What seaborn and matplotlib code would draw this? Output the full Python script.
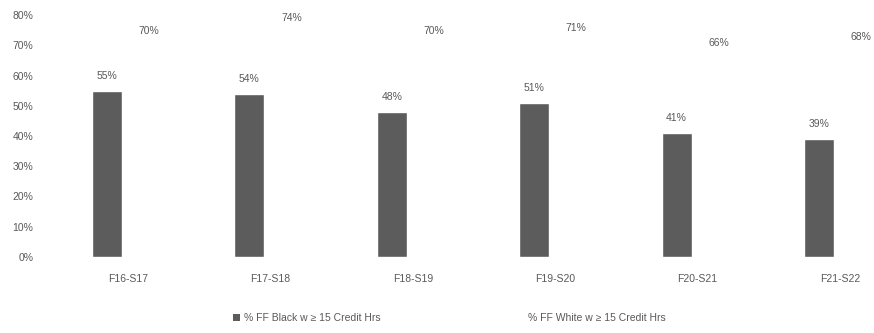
import matplotlib
matplotlib.use("Agg")
import matplotlib.pyplot as plt
import seaborn as sns
import pandas as pd

terms = ["F16-S17", "F17-S18", "F18-S19", "F19-S20", "F20-S21", "F21-S22"]
black_pct = [55, 54, 48, 51, 41, 39]
white_pct = [70, 74, 70, 71, 66, 68]
series_names = ["% FF Black w \u2265 15 Credit Hrs", "% FF White w \u2265 15 Credit Hrs"]
yticks = [0, 10, 20, 30, 40, 50, 60, 70, 80]

df = pd.DataFrame({
    "term": terms * 2,
    "series": [series_names[0]] * len(terms) + [series_names[1]] * len(terms),
    "pct": black_pct + white_pct,
})

sns.set_theme(style="white")
plt.rcParams["font.family"] = ["Liberation Sans", "DejaVu Sans"]
text_color = "#595959"

fig = plt.figure(figsize=(8.74, 3.33), dpi=100)
ax = fig.add_axes([56.8 / 874, 76 / 333, 854.4 / 874, 242 / 333])

sns.barplot(data=df, x="term", y="pct", hue="series", order=terms,
            hue_order=series_names,
            palette={series_names[0]: "#5c5c5c", series_names[1]: "#ffffff"},
            width=0.59, gap=0.286, ax=ax, legend=True, saturation=1)

for cont in ax.containers:
    ax.bar_label(cont, labels=[f"{int(v)}%" for v in cont.datavalues],
                 padding=7, fontsize=7.5, color=text_color)

ax.set_ylim(0, 80)
ax.set_xlim(-0.5, 5.5)
ax.set_yticks(yticks)
ax.set_yticklabels([f"{v}%" for v in yticks])
ax.set_xlabel("")
ax.set_ylabel("")
ax.tick_params(axis="y", length=0, pad=17, labelsize=7.5, labelcolor=text_color)
ax.tick_params(axis="x", length=0, pad=12, labelsize=7.5, labelcolor=text_color)
for s in ax.spines.values():
    s.set_visible(False)

handles, labels = ax.get_legend_handles_labels()
ax.get_legend().remove()
for h in handles:
    h.set_edgecolor("none")
fig.legend(handles, labels, loc="center", bbox_to_anchor=(449 / 874, 1 - 318 / 333),
           ncol=2, frameon=False, fontsize=7.5, labelcolor=text_color,
           handlelength=0.7, handleheight=0.7, handletextpad=0.4, columnspacing=13)

fig.savefig("out.png", dpi=100, facecolor="white")
